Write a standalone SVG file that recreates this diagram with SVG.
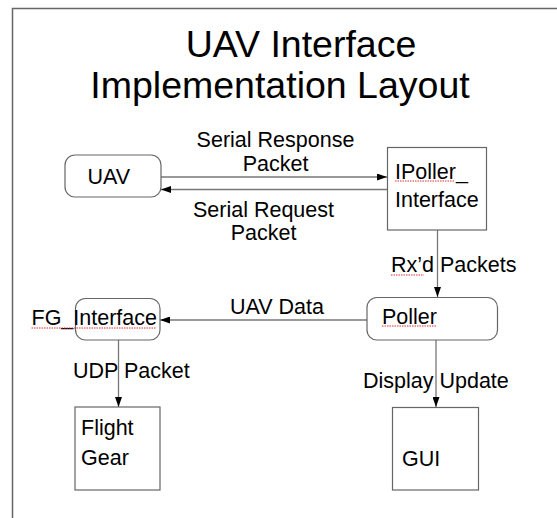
<svg xmlns="http://www.w3.org/2000/svg" width="557" height="518" viewBox="0 0 557 518">
<defs>
<style>
text{font-family:"Liberation Sans",Arial,sans-serif;fill:#000}
.t{font-size:21.5px}
.title{font-size:37.5px;text-anchor:middle}
.box{fill:#fff;stroke:#666;stroke-width:1.2}
.ln{stroke:#777;stroke-width:1.3;fill:none}
.sq{stroke:#e03030;stroke-width:1;stroke-dasharray:1.5 1;fill:none}
</style>
<marker id="ah" viewBox="0 0 10 7" refX="10" refY="3.5" markerWidth="10" markerHeight="7" markerUnits="userSpaceOnUse" orient="auto">
<path d="M0,0 L10,3.5 L0,7 z" fill="#000"/>
</marker>
</defs>
<rect width="557" height="518" fill="#fff"/>
<path d="M12.5,518 V8.5 H557" stroke="#666" stroke-width="1.5" fill="none"/>
<g id="title">
<text class="title" x="301" y="57">UAV Interface</text>
<text class="title" x="280" y="98">Implementation Layout</text>
</g>
<g id="connectors">
<line class="ln" x1="161" y1="177" x2="387" y2="177" marker-end="url(#ah)"/>
<line class="ln" x1="387" y1="189.5" x2="161" y2="189.5" marker-end="url(#ah)"/>
<line class="ln" x1="437.5" y1="230" x2="437.5" y2="297" marker-end="url(#ah)"/>
<line class="ln" x1="367" y1="320" x2="160" y2="320" marker-end="url(#ah)"/>
<line class="ln" x1="118.5" y1="340" x2="118.5" y2="407" marker-end="url(#ah)"/>
<line class="ln" x1="436" y1="340" x2="436" y2="407" marker-end="url(#ah)"/>
<text class="t" x="275.5" y="147" text-anchor="middle">Serial Response</text>
<text class="t" x="275.5" y="171" text-anchor="middle">Packet</text>
<text class="t" x="263.5" y="217" text-anchor="middle">Serial Request</text>
<text class="t" x="263.5" y="240" text-anchor="middle">Packet</text>
<text class="t" x="391" y="272">Rx’d Packets</text>
<path class="sq" d="M391,275 H424"/>
<text class="t" x="277" y="314" text-anchor="middle">UAV Data</text>
<text class="t" x="73" y="378">UDP Packet</text>
<text class="t" x="363" y="388">Display Update</text>
</g>
<g id="uav">
<rect class="box" x="65" y="155" width="96" height="42" rx="10"/>
<text class="t" x="87.5" y="183.5">UAV</text>
</g>
<g id="ipoller">
<rect class="box" x="387.5" y="147.5" width="99" height="82.5"/>
<text class="t" x="395" y="178.5">IPoller_</text>
<text class="t" x="395" y="207">Interface</text>
<path class="sq" d="M395,181 H455"/>
</g>
<g id="poller">
<rect class="box" x="367" y="297.5" width="130.5" height="42.5" rx="10"/>
<text class="t" x="382" y="323.5">Poller</text>
<path class="sq" d="M382,326 H437"/>
</g>
<g id="fg_interface">
<rect class="box" x="75.5" y="298.5" width="84.5" height="41.5" rx="10"/>
<text class="t" x="31.5" y="325">FG_Interface</text>
<path class="sq" d="M31.5,328 H156"/>
</g>
<g id="flightgear">
<rect class="box" x="75" y="407" width="85" height="83"/>
<text class="t" x="81" y="435">Flight</text>
<text class="t" x="81" y="464.5">Gear</text>
</g>
<g id="gui">
<rect class="box" x="392.5" y="407.5" width="86" height="82.5"/>
<text class="t" x="402" y="466">GUI</text>
</g>
</svg>
